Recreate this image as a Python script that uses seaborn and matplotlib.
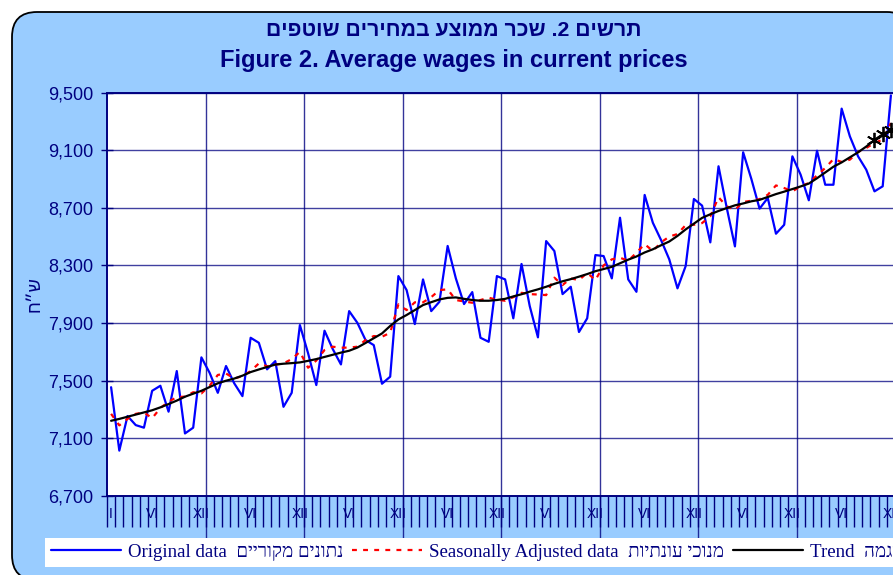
import numpy as np
import pandas as pd
import matplotlib
matplotlib.use("Agg")
import matplotlib.pyplot as plt
import seaborn as sns
from matplotlib.patches import FancyBboxPatch
from matplotlib.lines import Line2D
from matplotlib.ticker import FuncFormatter

# monthly data, 8 years
original = [7455, 7015, 7255, 7192, 7174, 7430, 7465, 7285, 7567, 7134, 7174, 7662,
            7555, 7416, 7602, 7482, 7393, 7798, 7763, 7579, 7636, 7319, 7416, 7886,
            7690, 7470, 7847, 7720, 7613, 7983, 7902, 7782, 7747, 7479, 7528, 8226,
            8129, 7893, 8203, 7983, 8048, 8435, 8210, 8032, 8115, 7798, 7770, 8226,
            8203, 7933, 8310, 8018, 7801, 8469, 8400, 8101, 8152, 7838, 7933, 8372,
            8365, 8210, 8631, 8203, 8117, 8789, 8596, 8476, 8342, 8141, 8296, 8761,
            8715, 8460, 8988, 8700, 8432, 9085, 8900, 8694, 8768, 8520, 8582, 9057,
            8930, 8752, 9096, 8860, 8860, 9388, 9196, 9057, 8964, 8814, 8849, 9480]
seas_adj = [7270, 7190, 7235, 7270, 7280, 7240, 7310, 7355, 7385, 7390, 7420, 7412,
            7465, 7540, 7550, 7515, 7532, 7567, 7620, 7600, 7612, 7620, 7650, 7700,
            7590, 7640, 7713, 7736, 7729, 7730, 7736, 7782, 7810, 7805, 7833, 8030,
            7990, 8044, 8044, 8080, 8129, 8134, 8060, 8050, 8041, 8060, 8076, 8062,
            8055, 8080, 8110, 8101, 8098, 8094, 8215, 8164, 8210, 8198, 8249, 8198,
            8300, 8342, 8353, 8333, 8388, 8448, 8400, 8460, 8500, 8518, 8580, 8582,
            8594, 8641, 8773, 8710, 8686, 8740, 8749, 8760, 8790, 8855, 8837, 8814,
            8849, 8872, 8925, 8976, 9038, 9018, 9034, 9087, 9115, 9150, 9173, 9288]
trend = [7222, 7235, 7250, 7265, 7280, 7295, 7315, 7338, 7362, 7389, 7410, 7430,
         7456, 7482, 7500, 7515, 7535, 7560, 7578, 7595, 7612, 7618, 7622, 7627,
         7638, 7650, 7665, 7680, 7695, 7708, 7730, 7762, 7795, 7828, 7880, 7925,
         7956, 7990, 8025, 8045, 8064, 8075, 8078, 8068, 8060, 8055, 8055, 8060,
         8068, 8085, 8100, 8118, 8134, 8152, 8172, 8190, 8205, 8222, 8240, 8260,
         8275, 8290, 8315, 8340, 8362, 8390, 8412, 8440, 8466, 8505, 8550, 8590,
         8630, 8655, 8678, 8698, 8717, 8730, 8745, 8755, 8775, 8795, 8812, 8830,
         8848, 8868, 8905, 8945, 8985, 9015, 9050, 9085, 9125, 9170, 9210, 9240]
n_marked = 3  # last trend points shown with a star
month_names = ["I", "VI", "XII"]

title_he = "תרשים 2. שכר ממוצע במחירים שוטפים"
title_en = "Figure 2. Average wages in current prices"
ylabel_he = "ש״ח"
legend_en = ["Original data", "Seasonally Adjusted data", "Trend"]
legend_he = ["נתונים מקוריים", "מנוכי עונתיות", "מגמה"]

def rtl(s):
    # matplotlib has no bidi, so write hebrew in visual order
    return s[::-1]

months = np.arange(1, len(original) + 1)
df = pd.DataFrame({"month": months, "original": original,
                   "seas_adj": seas_adj, "trend": trend})

navy = "#000080"
sns.set_style("white")
plt.rcParams["font.family"] = ["Liberation Sans", "DejaVu Sans"]

fig = plt.figure(figsize=(8.93, 5.75), dpi=100)
bg = FancyBboxPatch((0.12, -0.05), 9.0, 5.68, boxstyle="round,pad=0,rounding_size=0.25",
                    transform=fig.dpi_scale_trans, facecolor="#99CCFF",
                    edgecolor="black", linewidth=1.3, zorder=-5)
fig.patches.append(bg)

ax = fig.add_axes([107 / 893, 1 - 496 / 575, 788 / 893, (496 - 92.5) / 575])
ax.set_facecolor("white")

dash = (0, (2.2, 2.8))
sns.lineplot(data=df, x="month", y="original", ax=ax, color="#0000FF", lw=1.6, zorder=3)
sns.lineplot(data=df, x="month", y="seas_adj", ax=ax, color="#FF0000", lw=1.6,
             linestyle=dash, zorder=4)
sns.lineplot(data=df, x="month", y="trend", ax=ax, color="black", lw=1.6, zorder=5)
tail = df.tail(n_marked)
ax.plot(tail["month"], tail["trend"], ls="none", marker=(6, 2, 0), ms=11,
        mec="black", mew=1.3, zorder=6, clip_on=False)

ax.set_xlim(0.5, len(months) + 0.5)
ax.set_ylim(6700, 9500)
ax.set_yticks(np.arange(6700, 9501, 400))
ax.yaxis.set_major_formatter(FuncFormatter(lambda v, p: f"{v:,.0f}"))
ax.grid(axis="y", color=navy, lw=1.0, alpha=0.75)
ax.grid(axis="x", visible=False)

# month labels in the middle of each category, tick marks between categories
lab_pos, lab_txt = [1], [month_names[0]]
for yr in range(len(months) // 12):
    lab_pos += [yr * 12 + 6, yr * 12 + 12]
    lab_txt += [month_names[1], month_names[2]]
ax.set_xticks(lab_pos)
ax.set_xticklabels(lab_txt)
ax.set_xticks(np.arange(0.5, len(months) + 1, 1), minor=True)
ax.tick_params(axis="x", which="both", bottom=True)
ax.tick_params(axis="y", which="both", left=True)
ax.tick_params(axis="x", which="major", length=0, pad=8, labelsize=10, labelcolor=navy)
ax.tick_params(axis="x", which="minor", length=22, width=1.0, color=navy, direction="out")
ax.tick_params(axis="y", which="major", length=8, width=1.0, color=navy, direction="inout",
               labelsize=13, labelcolor=navy, pad=6)

year_bounds = np.arange(12.5, len(months), 12)
ax.vlines(year_bounds, -0.105, 1, transform=ax.get_xaxis_transform(), colors=navy,
          lw=1.0, alpha=0.8, clip_on=False, zorder=2)

for side in ["left", "right", "top", "bottom"]:
    ax.spines[side].set_color(navy)
    ax.spines[side].set_linewidth(1.4)

ax.set_xlabel("")
ax.set_ylabel(rtl(ylabel_he), color=navy, fontsize=13, labelpad=3)

fig.text(0.508, 1 - 31 / 575, rtl(title_he), ha="center", va="center",
         fontsize=15.3, fontweight="bold", color=navy)
fig.text(0.508, 1 - 61 / 575, title_en, ha="center", va="center",
         fontsize=17, fontweight="bold", color=navy)

handles = [Line2D([], [], color="#0000FF", lw=1.6),
           Line2D([], [], color="#FF0000", lw=1.6, linestyle=dash),
           Line2D([], [], color="black", lw=1.6)]
labels = [f"{e}  {rtl(h)}" for e, h in zip(legend_en, legend_he)]
leg = fig.legend(handles, labels, loc="upper left", bbox_to_anchor=(45 / 893, 1 - 538 / 575),
                 ncol=3, frameon=True, fancybox=False, facecolor="white", edgecolor="none",
                 framealpha=1, handlelength=3.7, handletextpad=0.4, columnspacing=0.45,
                 borderpad=0.3, borderaxespad=0,
                 prop={"family": ["Liberation Serif", "DejaVu Sans"], "size": 13.6})
for t in leg.get_texts():
    t.set_color(navy)

fig.savefig("out.png", dpi=100)
